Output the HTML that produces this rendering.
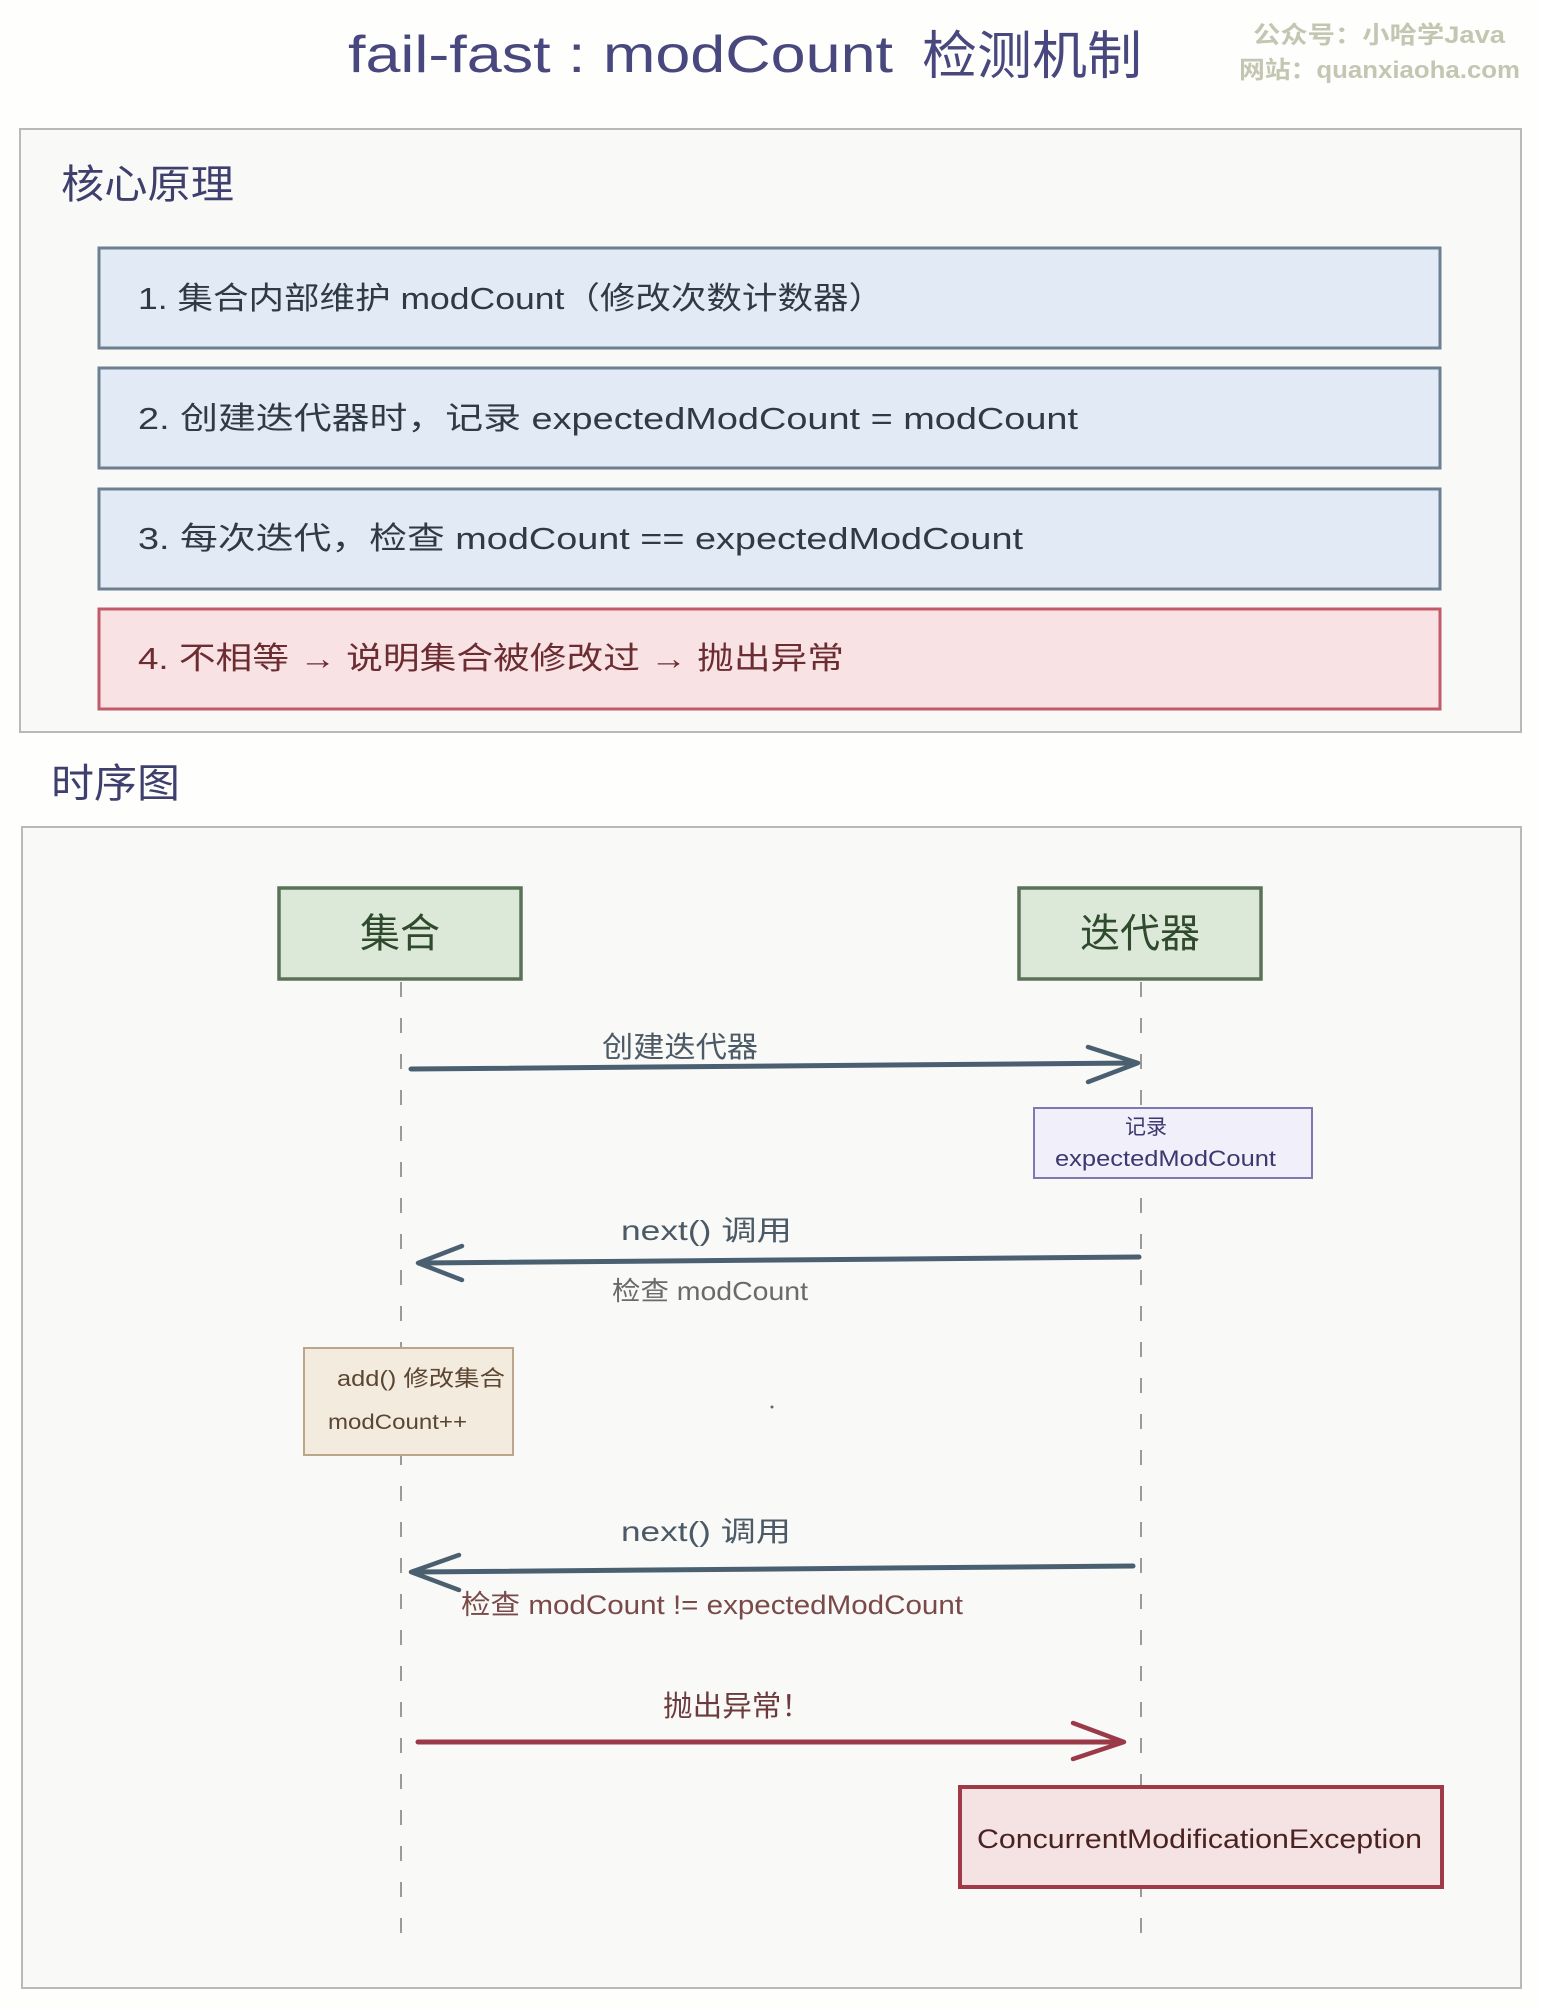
<!DOCTYPE html>
<html>
<head>
<meta charset="utf-8">
<style>
  html,body{margin:0;padding:0;background:#fefefd;}
  svg{display:block;}
  text{font-family:"Liberation Sans","Noto Sans CJK SC",sans-serif;}
</style>
</head>
<body>
<svg width="1541" height="2007" viewBox="0 0 1541 2007" xmlns="http://www.w3.org/2000/svg">
  <rect x="0" y="0" width="1541" height="2007" fill="#fefefd"/>

  <!-- Title -->
  <text x="348" y="72" font-size="52" fill="#48487e" textLength="545" lengthAdjust="spacingAndGlyphs">fail-fast : modCount</text>
  <text x="922" y="74" font-size="52" fill="#48487e" textLength="220" lengthAdjust="spacingAndGlyphs">检测机制</text>

  <!-- Watermark -->
  <text x="1253" y="43" font-size="24" font-weight="bold" fill="#c4c6b2" font-family="Liberation Serif, Noto Serif CJK SC, serif" textLength="252" lengthAdjust="spacingAndGlyphs">公众号：小哈学Java</text>
  <text x="1239" y="78" font-size="24" font-weight="bold" fill="#c4c6b2" font-family="Liberation Serif, Noto Serif CJK SC, serif" textLength="281" lengthAdjust="spacingAndGlyphs">网站：quanxiaoha.com</text>

  <!-- Core principle container -->
  <rect x="20" y="129" width="1501" height="603" fill="#f9f9f8" stroke="#b9b9b9" stroke-width="2"/>
  <text x="61" y="198" font-size="40" fill="#3f3f6e" textLength="173" lengthAdjust="spacingAndGlyphs">核心原理</text>

  <!-- Box 1 -->
  <rect x="99" y="248" width="1341" height="100" fill="#e2ebf5" stroke="#6d8092" stroke-width="3"/>
  <text x="138" y="309" font-size="31" fill="#2f3a45" textLength="746" lengthAdjust="spacingAndGlyphs">1. 集合内部维护 modCount（修改次数计数器）</text>

  <!-- Box 2 -->
  <rect x="99" y="368" width="1341" height="100" fill="#e2ebf5" stroke="#6d8092" stroke-width="3"/>
  <text x="138" y="429" font-size="31" fill="#2f3a45" textLength="940" lengthAdjust="spacingAndGlyphs">2. 创建迭代器时，记录 expectedModCount = modCount</text>

  <!-- Box 3 -->
  <rect x="99" y="489" width="1341" height="100" fill="#e2ebf5" stroke="#6d8092" stroke-width="3"/>
  <text x="138" y="549" font-size="31" fill="#2f3a45" textLength="885" lengthAdjust="spacingAndGlyphs">3. 每次迭代，检查 modCount == expectedModCount</text>

  <!-- Box 4 -->
  <rect x="99" y="609" width="1341" height="100" fill="#f8e2e4" stroke="#c25a6a" stroke-width="3"/>
  <text x="138" y="669" font-size="31" fill="#6b2d31" textLength="706" lengthAdjust="spacingAndGlyphs">4. 不相等 → 说明集合被修改过 → 抛出异常</text>

  <!-- Sequence heading -->
  <text x="51" y="797" font-size="40" fill="#3f3f6e" textLength="129" lengthAdjust="spacingAndGlyphs">时序图</text>

  <!-- Sequence container -->
  <rect x="22" y="827" width="1499" height="1161" fill="#f9f9f8" stroke="#b9b9b9" stroke-width="2"/>

  <!-- Lifelines -->
  <line x1="401" y1="982" x2="401" y2="1940" stroke="#9a9a9a" stroke-width="2" stroke-dasharray="15 21"/>
  <line x1="1141" y1="982" x2="1141" y2="1940" stroke="#9a9a9a" stroke-width="2" stroke-dasharray="15 21"/>

  <!-- Participants -->
  <rect x="279" y="888" width="242" height="91" fill="#dce9d8" stroke="#5a7257" stroke-width="3.5"/>
  <text x="400" y="947" font-size="40" fill="#2f4a2c" text-anchor="middle">集合</text>
  <rect x="1019" y="888" width="242" height="91" fill="#dce9d8" stroke="#5a7257" stroke-width="3.5"/>
  <text x="1140" y="947" font-size="40" fill="#2f4a2c" text-anchor="middle">迭代器</text>

  <!-- Arrow 1: 创建迭代器 -->
  <text x="602" y="1057" font-size="29" fill="#4c5a66" textLength="156" lengthAdjust="spacingAndGlyphs">创建迭代器</text>
  <line x1="411" y1="1069" x2="1136" y2="1063" stroke="#4a6070" stroke-width="5" stroke-linecap="round"/>
  <polyline points="1088,1047 1138,1063 1088,1082" fill="none" stroke="#4a6070" stroke-width="4.5" stroke-linecap="round" stroke-linejoin="round"/>

  <!-- Note: 记录 expectedModCount -->
  <rect x="1034" y="1108" width="278" height="70" fill="#f1effa" stroke="#7f79b3" stroke-width="2"/>
  <text x="1146" y="1134" font-size="21" fill="#3c3870" text-anchor="middle">记录</text>
  <text x="1055" y="1166" font-size="22" fill="#3c3870" textLength="221" lengthAdjust="spacingAndGlyphs">expectedModCount</text>

  <!-- Arrow 2: next() 调用 -->
  <text x="621" y="1240" font-size="28" fill="#4c5a66" textLength="171" lengthAdjust="spacingAndGlyphs">next() 调用</text>
  <line x1="1139" y1="1257" x2="420" y2="1263" stroke="#4a6070" stroke-width="5" stroke-linecap="round"/>
  <polyline points="462,1246 418,1263 462,1280" fill="none" stroke="#4a6070" stroke-width="4.5" stroke-linecap="round" stroke-linejoin="round"/>
  <text x="612" y="1300" font-size="26" fill="#6a6a6a" textLength="196" lengthAdjust="spacingAndGlyphs">检查 modCount</text>

  <!-- Note: add() -->
  <rect x="304" y="1348" width="209" height="107" fill="#f4ebdf" stroke="#bba68b" stroke-width="2"/>
  <text x="337" y="1386" font-size="22" fill="#5b4632" textLength="168" lengthAdjust="spacingAndGlyphs">add() 修改集合</text>
  <text x="328" y="1429" font-size="21" fill="#5b4632" textLength="139" lengthAdjust="spacingAndGlyphs">modCount++</text>

  <circle cx="772" cy="1407" r="1.5" fill="#666"/>

  <!-- Arrow 3: next() 调用 -->
  <text x="621" y="1541" font-size="28" fill="#4c5a66" textLength="170" lengthAdjust="spacingAndGlyphs">next() 调用</text>
  <line x1="1133" y1="1566" x2="414" y2="1572" stroke="#4a6070" stroke-width="5" stroke-linecap="round"/>
  <polyline points="459,1555 411,1572 459,1590" fill="none" stroke="#4a6070" stroke-width="4.5" stroke-linecap="round" stroke-linejoin="round"/>
  <text x="461" y="1614" font-size="27" fill="#7a4a48" textLength="502" lengthAdjust="spacingAndGlyphs">检查 modCount != expectedModCount</text>

  <!-- Arrow 4: 抛出异常！ -->
  <text x="663" y="1716" font-size="29" fill="#6b3a3a" textLength="148" lengthAdjust="spacingAndGlyphs">抛出异常！</text>
  <line x1="418" y1="1742" x2="1122" y2="1742" stroke="#9a3a48" stroke-width="5" stroke-linecap="round"/>
  <polyline points="1073,1723 1124,1742 1073,1759" fill="none" stroke="#9a3a48" stroke-width="4.5" stroke-linecap="round" stroke-linejoin="round"/>

  <!-- Exception box -->
  <rect x="960" y="1787" width="482" height="100" fill="#f5e2e2" stroke="#a03a48" stroke-width="4"/>
  <text x="977" y="1848" font-size="27" fill="#4a2222" textLength="445" lengthAdjust="spacingAndGlyphs">ConcurrentModificationException</text>
</svg>
</body>
</html>
